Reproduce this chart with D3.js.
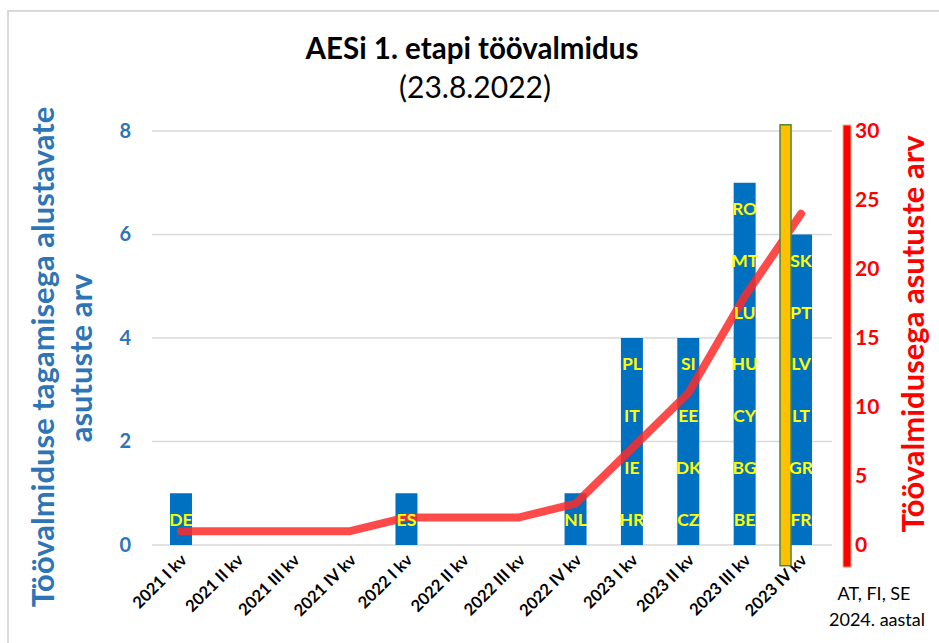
<html>
<head>
<script src="https://cdn.jsdelivr.net/npm/d3@7"></script>
<style>
  body { margin: 0; background: #fff; }
  text { font-family: Lato, "Open Sans", sans-serif; }
</style>
</head>
<body>
<div id="chart"></div>
<script type="text/javascript">
// ---- data ----
const quarters = ["2021 I kv", "2021 II kv", "2021 III kv", "2021 IV kv",
                  "2022 I kv", "2022 II kv", "2022 III kv", "2022 IV kv",
                  "2023 I kv", "2023 II kv", "2023 III kv", "2023 IV kv"];
// countries starting readiness per quarter (bottom to top)
const countries = [["DE"], [], [], [],
                   ["ES"], [], [], ["NL"],
                   ["HR", "IE", "IT", "PL"], ["CZ", "DK", "EE", "SI"],
                   ["BE", "BG", "CY", "HU", "LU", "MT", "RO"],
                   ["FR", "GR", "LT", "LV", "PT", "SK"]];
const barValues = [1, 0, 0, 0, 1, 0, 0, 1, 4, 4, 7, 6];
const cumulative = [1, 1, 1, 1, 2, 2, 2, 3, 7, 11, 18, 24];
const leftTicks = [0, 2, 4, 6, 8];
const rightTicks = [0, 5, 10, 15, 20, 25, 30];
const markerQuarter = "2023 IV kv";
const markerRange = [-0.4, 8.12];

const width = 939, height = 643;
const svg = d3.select("#chart").append("svg")
    .attr("width", width).attr("height", height);

// outer frame
svg.append("rect")
    .attr("x", 8).attr("y", 11).attr("width", 960).attr("height", 700)
    .attr("fill", "none").attr("stroke", "#d9d9d9").attr("stroke-width", 2);

const x = d3.scaleBand().domain(quarters).range([152.8, 829.2]).paddingInner(0.61).paddingOuter(0.305);
const y = d3.scaleLinear().domain([0, 8]).range([545, 131]);
const y2 = d3.scaleLinear().domain([0, 30]).range([545, 131]);

// title
svg.append("text").attr("x", 472).attr("y", 59).attr("text-anchor", "middle")
    .attr("font-size", 29.5).attr("font-weight", "bold").text("AESi 1. etapi töövalmidus");
svg.append("text").attr("x", 475).attr("y", 98).attr("text-anchor", "middle")
    .attr("font-size", 30).text("(23.8.2022)");

// gridlines
svg.append("g").selectAll("line").data(leftTicks).enter().append("line")
    .attr("x1", 152).attr("x2", 832)
    .attr("y1", d => y(d)).attr("y2", d => y(d))
    .attr("stroke", "#d9d9d9").attr("stroke-width", 1.5);

// left axis
const leftAxis = svg.append("g").attr("transform", "translate(131,0)")
    .call(d3.axisLeft(y).tickValues(leftTicks).tickSize(0).tickPadding(0));
leftAxis.select(".domain").remove();
leftAxis.selectAll("text").attr("font-size", 20).attr("font-weight", "bold")
    .attr("fill", "#2e75b6").attr("font-family", "Lato, sans-serif");

svg.append("text").attr("transform", "translate(54,357) rotate(-90)")
    .attr("text-anchor", "middle").attr("font-size", 31).attr("font-weight", "bold")
    .attr("fill", "#2e75b6").text("Töövalmiduse tagamisega alustavate");
svg.append("text").attr("transform", "translate(92,358) rotate(-90)")
    .attr("text-anchor", "middle").attr("font-size", 31).attr("font-weight", "bold")
    .attr("fill", "#2e75b6").text("asutuste arv");

// bars
svg.append("g").selectAll("rect").data(quarters).enter().append("rect")
    .attr("x", d => x(d))
    .attr("width", x.bandwidth())
    .attr("y", (d, i) => y(barValues[i]))
    .attr("height", (d, i) => y(0) - y(barValues[i]))
    .attr("fill", "#0070c0");

// x axis labels
svg.append("g").selectAll("text").data(quarters).enter().append("text")
    .attr("transform", d => `translate(${x(d) + x.bandwidth() / 2 + 7},561) rotate(-45)`)
    .attr("text-anchor", "end").attr("font-size", 16.5).attr("font-weight", "bold")
    .attr("fill", "#000").text(d => d);

// cumulative line
const line = d3.line()
    .x((d, i) => x(quarters[i]) + x.bandwidth() / 2)
    .y(d => y2(d));
svg.append("path").datum(cumulative)
    .attr("d", line).attr("fill", "none")
    .attr("stroke", "#ff2a2a").attr("stroke-opacity", 0.85)
    .attr("stroke-width", 8).attr("stroke-linecap", "round").attr("stroke-linejoin", "round");

// yellow marker (drawn over the line)
svg.append("rect")
    .attr("x", x(markerQuarter) - 10)
    .attr("width", 11)
    .attr("y", y(markerRange[1]))
    .attr("height", y(markerRange[0]) - y(markerRange[1]))
    .attr("fill", "#ffc000").attr("stroke", "#548235").attr("stroke-width", 1.5);

// country labels inside bars
const labelData = [];
quarters.forEach((q, i) => countries[i].forEach((c, j) => labelData.push({ q: q, c: c, v: j + 0.5 })));
svg.append("g").selectAll("text").data(labelData).enter().append("text")
    .attr("x", d => x(d.q) + x.bandwidth() / 2)
    .attr("y", d => y(d.v) + 6.5)
    .attr("text-anchor", "middle").attr("font-size", 17.5).attr("font-weight", "bold")
    .attr("fill", "#ffff00").text(d => d.c);

// right axis
svg.append("rect")
    .attr("x", 843).attr("width", 8)
    .attr("y", y2(30) - 6).attr("height", y2(-1.6) - y2(30) + 6)
    .attr("fill", "#ff0000").attr("stroke", "#f4b183").attr("stroke-width", 1);
const rightAxis = svg.append("g").attr("transform", "translate(855,0)")
    .call(d3.axisRight(y2).tickValues(rightTicks).tickSize(0).tickPadding(0));
rightAxis.select(".domain").remove();
rightAxis.selectAll("text").attr("font-size", 21).attr("font-weight", "bold")
    .attr("fill", "#ff0000").attr("font-family", "Lato, sans-serif");

svg.append("text").attr("transform", "translate(924,334) rotate(-90)")
    .attr("text-anchor", "middle").attr("font-size", 31).attr("font-weight", "bold")
    .attr("fill", "#ff0000").text("Töövalmidusega asutuste arv");

// note
svg.append("text").attr("x", 874).attr("y", 600).attr("text-anchor", "middle")
    .attr("font-size", 18).text("AT, FI, SE");
svg.append("text").attr("x", 877).attr("y", 626).attr("text-anchor", "middle")
    .attr("font-size", 18).text("2024. aastal");
</script>
</body>
</html>
